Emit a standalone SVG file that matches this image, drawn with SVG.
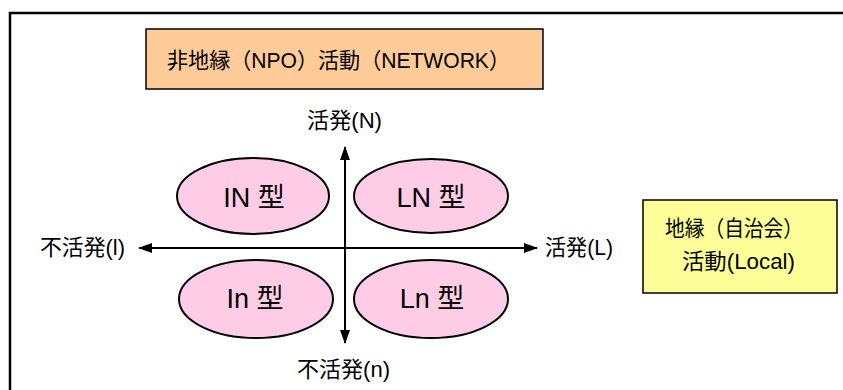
<svg xmlns="http://www.w3.org/2000/svg" width="843" height="390" viewBox="0 0 843 390">
<defs>
<style>
text{font-family:"Liberation Sans","Noto Sans CJK JP",sans-serif;fill:#000}
.lbl{font-size:22px}
.ell{fill:#FFCCE6;stroke:#000;stroke-width:2}
.et{font-size:27px;text-anchor:middle}
.ax{stroke:#000;stroke-width:2;fill:none}
</style>
<marker id="ah" viewBox="0 0 14 10" refX="13" refY="5" markerWidth="7" markerHeight="5.5" orient="auto-start-reverse" markerUnits="strokeWidth">
<path d="M0,0 L14,5 L0,10 Z" fill="#000"/>
</marker>
</defs>
<rect width="843" height="390" fill="#fff"/>
<path d="M10,390 V13 H843" fill="none" stroke="#000" stroke-width="2.5"/>
<g id="network">
<rect x="146" y="29" width="397" height="60" fill="#FFCC99" stroke="#000" stroke-width="1.5"/>
<text x="167" y="68" font-size="22" textLength="343" lengthAdjust="spacingAndGlyphs">非地縁（NPO）活動（NETWORK）</text>
</g>
<g id="local">
<rect x="643" y="200" width="194" height="93" fill="#FFFF99" stroke="#000" stroke-width="1.5"/>
<text x="665" y="236" font-size="22" textLength="138" lengthAdjust="spacingAndGlyphs">地縁（自治会）</text>
<text x="682" y="269" font-size="22" textLength="113" lengthAdjust="spacingAndGlyphs">活動(Local)</text>
</g>
<g id="connectors">
<line class="ax" x1="345" y1="343" x2="345" y2="147" marker-end="url(#ah)" marker-start="url(#ah)"/>
<line class="ax" x1="139" y1="248" x2="537" y2="248" marker-end="url(#ah)" marker-start="url(#ah)"/>
</g>
<g id="IN"><ellipse class="ell" cx="253" cy="196" rx="76" ry="38"/><text class="et" x="254" y="207">IN 型</text></g>
<g id="LN"><ellipse class="ell" cx="431" cy="196" rx="77" ry="37"/><text class="et" x="431" y="207">LN 型</text></g>
<g id="In"><ellipse class="ell" cx="256" cy="299" rx="77" ry="39"/><text class="et" x="255" y="308">In 型</text></g>
<g id="Ln"><ellipse class="ell" cx="431" cy="299" rx="77" ry="39"/><text class="et" x="432" y="308">Ln 型</text></g>
<g id="labels">
<text class="lbl" x="307" y="128" textLength="75" lengthAdjust="spacingAndGlyphs">活発(N)</text>
<text class="lbl" x="297" y="377" textLength="93" lengthAdjust="spacingAndGlyphs">不活発(n)</text>
<text class="lbl" x="40" y="255" textLength="85" lengthAdjust="spacingAndGlyphs">不活発(l)</text>
<text class="lbl" x="545" y="255" textLength="68" lengthAdjust="spacingAndGlyphs">活発(L)</text>
</g>
</svg>
